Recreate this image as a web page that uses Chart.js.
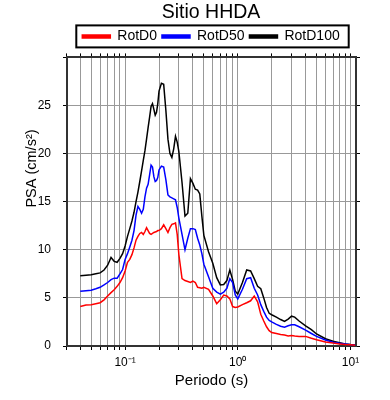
<!DOCTYPE html>
<html>
<head>
<meta charset="utf-8">
<script src="https://cdn.jsdelivr.net/npm/chart.js@4"></script>
<style>
  html, body { margin: 0; padding: 0; background: #fff; }
  #wrap { width: 390px; height: 400px; }
</style>
</head>
<body>
<div id="wrap"><canvas id="psa-chart" width="390" height="400"></canvas></div>
<script>
// ============================================
// Data
// ============================================
const periods = [
  0.04, 0.045, 0.05, 0.055, 0.06, 0.065, 0.07, 0.075, 0.08, 0.085,
  0.09, 0.095, 0.1, 0.105, 0.11, 0.115, 0.12, 0.125, 0.13, 0.135,
  0.14, 0.145, 0.15, 0.155, 0.16, 0.165, 0.17, 0.175, 0.18, 0.185,
  0.19, 0.195, 0.2, 0.21, 0.22, 0.23, 0.24, 0.25, 0.26, 0.27,
  0.28, 0.29, 0.3, 0.32, 0.34, 0.36, 0.38, 0.4, 0.42, 0.44,
  0.46, 0.48, 0.5, 0.55, 0.6, 0.65, 0.7, 0.75, 0.8, 0.85,
  0.9, 0.95, 1.0, 1.1, 1.2, 1.3, 1.4, 1.5, 1.6, 1.7,
  1.8, 1.9, 2.0, 2.2, 2.4, 2.6, 2.8, 3.0, 3.2, 3.5,
  4.0, 4.5, 5.0, 6.0, 7.0, 8.0, 9.0, 10.0, 11.0,
];

const rotD0 = [
  4.1, 4.25, 4.3, 4.4, 4.5, 4.8, 5.2, 5.55, 5.85, 6.2,
  6.6, 7.1, 7.8, 8.7, 9.0, 9.5, 10.2, 11.0, 11.4, 11.7,
  11.8, 11.6, 11.9, 12.3, 12.0, 11.7, 11.6, 11.7, 11.8, 11.85,
  11.9, 12.0, 12.0, 12.2, 12.6, 12.2, 11.8, 12.3, 12.65, 12.7,
  12.8, 11.6, 9.5, 7.0, 6.8, 6.7, 6.6, 6.75, 6.6, 6.1,
  6.05, 6.0, 6.1, 5.9, 5.2, 4.4, 4.8, 5.3, 5.2, 4.9,
  4.1, 4.0, 4.05, 4.3, 4.5, 4.7, 5.2, 4.6, 3.3, 2.6,
  2.0, 1.6, 1.4, 1.3, 1.2, 1.15, 1.05, 1.1, 1.05, 1.0,
  1.0, 0.8, 0.65, 0.42, 0.3, 0.22, 0.16, 0.12, 0.09,
];

const rotD50 = [
  5.7, 5.75, 5.8, 5.95, 6.1, 6.35, 6.6, 6.9, 7.05, 7.05,
  7.5, 7.95, 9.0, 9.6, 10.3, 11.0, 12.0, 13.6, 14.5, 14.2,
  13.8, 14.2, 15.5, 16.4, 16.8, 17.8, 18.8, 18.6, 17.6, 17.1,
  17.2, 17.5, 18.3, 18.7, 18.6, 17.3, 15.7, 15.5, 15.4, 15.3,
  15.2, 14.4, 13.3, 11.6, 10.0, 11.2, 12.2, 12.2, 12.1, 11.2,
  10.5, 9.6, 8.5, 7.2, 6.0, 5.6, 5.4, 5.6, 6.0, 7.0,
  6.6, 5.3, 4.9, 5.9, 7.0, 7.1, 6.0, 5.3, 4.3, 3.6,
  3.0, 2.65, 2.5, 2.25, 2.05, 1.95, 2.1, 2.2, 2.2, 2.0,
  1.65, 1.3, 1.0, 0.62, 0.4, 0.28, 0.2, 0.14, 0.1,
];

const rotD100 = [
  7.3, 7.35, 7.4, 7.5, 7.6, 7.9, 8.4, 9.2, 8.8, 8.7,
  9.1, 9.6, 10.4, 11.4, 12.2, 13.0, 13.9, 15.0, 16.0, 17.1,
  18.2, 19.3, 20.3, 21.5, 22.7, 23.8, 24.9, 25.2, 24.6, 24.0,
  24.3, 25.2, 26.5, 27.3, 27.2, 24.5, 21.5, 20.0, 19.6, 20.5,
  21.8, 21.2, 20.2, 17.0, 13.5, 13.8, 17.4, 16.9, 16.3, 16.2,
  15.8, 13.5, 11.5, 9.8, 8.6, 7.1, 6.35, 6.4, 6.8, 7.9,
  6.9, 5.7, 5.4, 6.6, 7.9, 7.8, 7.0, 6.2, 5.95, 5.0,
  4.0, 3.4, 3.25, 3.0, 2.75, 2.55, 2.8, 3.1, 3.0, 2.6,
  2.1, 1.7, 1.25, 0.75, 0.5, 0.35, 0.22, 0.15, 0.1,
];

const seriesNames = ["RotD0", "RotD50", "RotD100"];
const seriesColors = ["#ff0000", "#0000ff", "#000000"];

// log grid: 0.03..0.09, 0.1..0.9, 1..9, 10
const xGridTicks = [
  0.03, 0.04, 0.05, 0.06, 0.07, 0.08, 0.09,
  0.1, 0.2, 0.3, 0.4, 0.5, 0.6, 0.7, 0.8, 0.9,
  1, 2, 3, 4, 5, 6, 7, 8, 9, 10,
];
const xTickLabels = { 0.1: "10\u207B\u00B9", 1: "10\u2070", 10: "10\u00B9" };

const X_MIN = 0.0305;
const X_MAX = 11.2;
const Y_MAX = 30;
const Y_TITLE = "PSA (cm/s\u00B2)";

// ============================================
// Helpers
// ============================================
const FONT = "'Liberation Sans', Arial, Helvetica, sans-serif";

function isDecade(v) {
  return Math.abs(Math.log10(v) - Math.round(Math.log10(v))) < 1e-6;
}

function setLogTicks(scale) {
  scale.ticks = xGridTicks.map((v) => ({ value: v, major: isDecade(v) }));
}

function toPoints(values) {
  return periods.map((p, i) => ({ x: p, y: values[i] }));
}

// box around the legend, like the original figure
const legendFrame = {
  id: "legendFrame",
  afterDraw(chart) {
    const lg = chart.legend;
    if (!lg || !lg.legendHitBoxes || !lg.legendHitBoxes.length) return;
    const boxes = lg.legendHitBoxes;
    const left = Math.min(...boxes.map((b) => b.left)) - 6;
    const right = Math.max(...boxes.map((b) => b.left + b.width)) + 9;
    const midY = boxes[0].top + boxes[0].height / 2;
    const ctx = chart.ctx;
    ctx.save();
    ctx.strokeStyle = "#000";
    ctx.lineWidth = 2;
    ctx.strokeRect(left, midY - 11, right - left, 22);
    ctx.restore();
  },
};

// y title sits above the middle of the axis in the original
const yTitle = {
  id: "yTitle",
  afterDraw(chart) {
    const { ctx, chartArea } = chart;
    const cx = chartArea.left - 35;
    const cy = chartArea.top + (chartArea.bottom - chartArea.top) * 0.385;
    ctx.save();
    ctx.translate(cx, cy);
    ctx.rotate(-Math.PI / 2);
    ctx.fillStyle = "#000";
    ctx.font = `14.5px ${FONT}`;
    ctx.textAlign = "center";
    ctx.textBaseline = "middle";
    ctx.fillText(Y_TITLE, 0, 0);
    ctx.restore();
  },
};

// ============================================
// Chart
// ============================================
const ctx = document.getElementById("psa-chart").getContext("2d");

new Chart(ctx, {
  type: "line",
  data: {
    datasets: [rotD0, rotD50, rotD100].map((vals, i) => ({
      label: seriesNames[i],
      data: toPoints(vals),
      borderColor: seriesColors[i],
      backgroundColor: seriesColors[i],
      borderWidth: 1.5,
      pointRadius: 0,
      tension: 0,
      fill: false,
    })),
  },
  options: {
    responsive: false,
    animation: false,
    devicePixelRatio: 1,
    layout: { padding: { left: 32, right: 0, top: 0, bottom: 0 } },
    plugins: {
      title: {
        display: true,
        text: "Sitio HHDA",
        color: "#000",
        font: { family: FONT, size: 19.5, weight: "normal" },
        padding: { top: 1, bottom: 0 },
      },
      legend: {
        display: true,
        position: "top",
        labels: {
          color: "#000",
          font: { family: FONT, size: 14 },
          boxWidth: 28,
          boxHeight: 3,
          padding: 5,
        },
      },
      tooltip: { enabled: false },
    },
    scales: {
      x: {
        type: "logarithmic",
        position: "bottom",
        min: X_MIN,
        max: X_MAX,
        afterBuildTicks: setLogTicks,
        afterFit: (s) => { s.height = 54; },
        border: { display: true, color: "#333", width: 2 },
        grid: {
          color: "#999",
          lineWidth: 1,
          drawTicks: true,
          tickLength: 4,
          tickColor: "#000",
        },
        ticks: {
          autoSkip: false,
          maxRotation: 0,
          padding: 5,
          color: "#000",
          font: { family: FONT, size: 12 },
          callback: (v) => xTickLabels[v] || "",
        },
        title: {
          display: true,
          text: "Periodo (s)",
          color: "#000",
          font: { family: FONT, size: 15 },
          padding: { top: 0, bottom: 10 },
        },
      },
      x2: {
        type: "logarithmic",
        position: "top",
        min: X_MIN,
        max: X_MAX,
        afterBuildTicks: setLogTicks,
        border: { display: true, color: "#333", width: 2 },
        grid: { drawOnChartArea: false, tickLength: 4, tickColor: "#000" },
        ticks: { display: false },
      },
      y: {
        type: "linear",
        position: "left",
        min: 0,
        max: Y_MAX,
        afterFit: (s) => { s.width = 35; },
        border: { display: true, color: "#333", width: 2 },
        grid: { color: "#999", lineWidth: 1, tickLength: 4, tickColor: "#000" },
        ticks: {
          stepSize: 5,
          padding: 12,
          color: "#000",
          font: { family: FONT, size: 12 },
          callback: (v) => (v < Y_MAX ? String(v) : ""),
        },
        title: { display: false },
      },
      y2: {
        type: "linear",
        position: "right",
        min: 0,
        max: Y_MAX,
        afterFit: (s) => { s.width = 34; },
        border: { display: true, color: "#333", width: 2 },
        grid: { drawOnChartArea: false, tickLength: 4, tickColor: "#000" },
        ticks: { display: false, stepSize: 5 },
      },
    },
  },
  plugins: [legendFrame, yTitle],
});
</script>
</body>
</html>
